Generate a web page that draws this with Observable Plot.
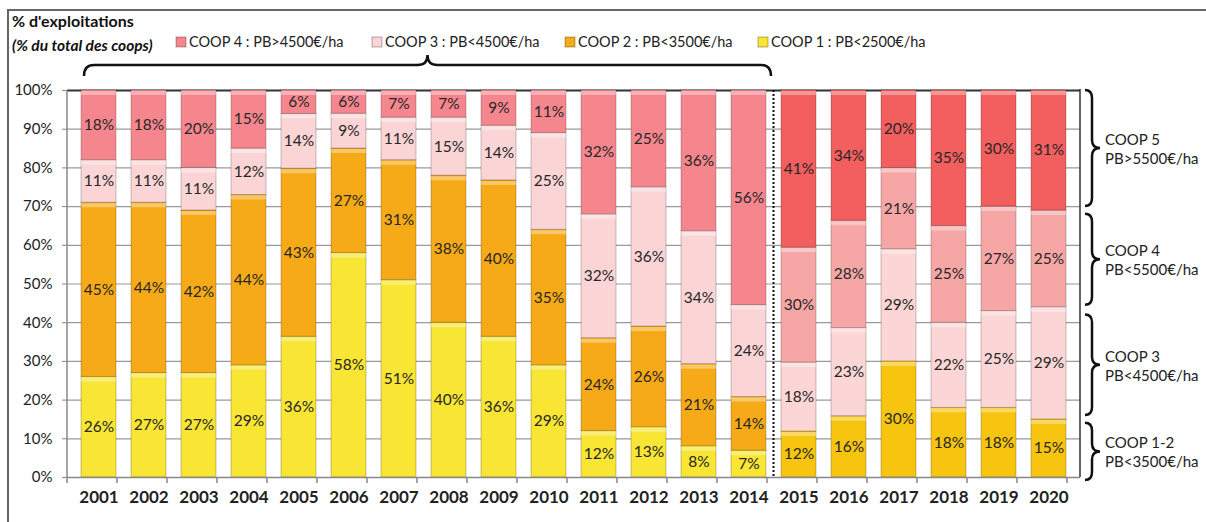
<!DOCTYPE html>
<html>
<head>
<meta charset="utf-8">
<script src="https://cdn.jsdelivr.net/npm/d3@7"></script>
<script src="https://cdn.jsdelivr.net/npm/@observablehq/plot@0.6"></script>
<style>
  html, body { margin: 0; padding: 0; background: white; }
  #chart { width: 1206px; height: 522px; }
</style>
</head>
<body>
<div id="chart"></div>
<script>
// ---- Data ----
const yearsA = ["2001","2002","2003","2004","2005","2006","2007","2008","2009","2010","2011","2012","2013","2014"];
const coop1 = [26,27,27,29,36,58,51,40,36,29,12,13,8,7];
const coop2 = [45,44,42,44,43,27,31,38,40,35,24,26,21,14];
const coop3 = [11,11,11,12,14,9,11,15,14,25,32,36,34,24];
const coop4 = [18,18,20,15,6,6,7,7,9,11,32,25,36,56];

const yearsB = ["2015","2016","2017","2018","2019","2020"];
const coop12b = [12,16,30,18,18,15];
const coop3b = [18,23,29,22,25,29];
const coop4b = [30,28,21,25,27,25];
const coop5b = [41,34,20,35,30,31];

const yTicks = [0,0.1,0.2,0.3,0.4,0.5,0.6,0.7,0.8,0.9,1];
const legendLabels = ["COOP 4 : PB>4500€/ha","COOP 3 : PB<4500€/ha","COOP 2 : PB<3500€/ha","COOP 1 : PB<2500€/ha"];
const legendKeys = ["c4","c3","c2","c1"];
const bracketRanges = [[0.70,1.0],[0.445,0.68],[0.16,0.42],[-0.008,0.14]];
const bracketLabels = [["COOP 5","PB>5500€/ha"],["COOP 4","PB<5500€/ha"],["COOP 3","PB<4500€/ha"],["COOP 1-2","PB<3500€/ha"]];

// ---- Styles ----
const keys = ["c1","c2","c3","c4","n12","n3","n4","n5"];
const colors = ["#f8e534","#f6aa17","#fbd4d6","#f6868e","#f7c40f","#fcd6d6","#f7a6a6","#f35e5e"];

// ---- Build table ----
const years = yearsA.concat(yearsB);
const rows = [];
yearsA.forEach((y,i) => {
  rows.push({year:y, level:1, key:"c1", value:coop1[i]});
  rows.push({year:y, level:2, key:"c2", value:coop2[i]});
  rows.push({year:y, level:3, key:"c3", value:coop3[i]});
  rows.push({year:y, level:4, key:"c4", value:coop4[i]});
});
yearsB.forEach((y,i) => {
  rows.push({year:y, level:1, key:"n12", value:coop12b[i]});
  rows.push({year:y, level:2, key:"n3", value:coop3b[i]});
  rows.push({year:y, level:3, key:"n4", value:coop4b[i]});
  rows.push({year:y, level:4, key:"n5", value:coop5b[i]});
});

const stackOpts = {x:"year", y:"value", z:"level", offset:"normalize"};
const font = "Lato, 'Open Sans', sans-serif";

const chart = Plot.plot({
  width: 1206,
  height: 522,
  marginLeft: 67,
  marginRight: 126,
  marginTop: 90,
  marginBottom: 45,
  style: {fontFamily: font, background: "white", color: "#222", overflow: "visible"},
  x: {domain: years, paddingInner: 0.3, paddingOuter: 0.15, label: null},
  y: {domain: [0,1], label: null},
  color: {domain: keys, range: colors},
  marks: [
    Plot.ruleY(yTicks, {stroke: "#9a9a9a", strokeWidth: 1.2}),
    Plot.ruleY([1], {stroke: "#333", strokeWidth: 2}),
    Plot.barY(rows, Plot.stackY({...stackOpts, fill: "key", stroke: "rgba(0,0,0,0.22)", strokeWidth: 1})),
    Plot.tickY(rows, Plot.stackY2({...stackOpts, stroke: "white", strokeOpacity: 0.35, strokeWidth: 4, dy: 2.5})),
    Plot.text(rows, Plot.stackY({...stackOpts, text: d => d.value + "%", fontSize: 15.5, fill: "#262626"})),
    Plot.axisY({ticks: yTicks, tickFormat: d => Math.round(d*100) + "%", tickSize: 5, tickPadding: 10, fontSize: 15, stroke: "#888", label: null}),
    Plot.axisX({tickSize: 0, tickPadding: 13, fontSize: 17, fontWeight: "bold", label: null}),
    Plot.ruleY([0], {stroke: "#888", strokeWidth: 1.5})
  ]
});
document.getElementById("chart").appendChild(chart);

// ---- Annotations through the plot scales ----
const svg = d3.select(chart);
const xs = chart.scale("x"), ys = chart.scale("y");
const step = xs.step, bw = xs.bandwidth;
const xLeft = xs.range[0], xRight = xs.range[1];
const yTop = ys.apply(1), yBot = ys.apply(0);
const g = svg.append("g").attr("text-anchor", "start").attr("font-family", font);

// left axis line and right frame
g.append("line").attr("x1", xLeft).attr("x2", xLeft).attr("y1", yTop).attr("y2", yBot).attr("stroke", "#888").attr("stroke-width", 1.5);
g.append("line").attr("x1", xRight).attr("x2", xRight).attr("y1", yTop - 1).attr("y2", yBot).attr("stroke", "#333").attr("stroke-width", 1.5);
// bottom ticks at band boundaries
for (let i = 0; i <= years.length; i++) {
  const xx = xLeft + i * step;
  g.append("line").attr("x1", xx).attr("x2", xx).attr("y1", yBot).attr("y2", yBot + 6).attr("stroke", "#888").attr("stroke-width", 1.5);
}
// dotted separator
const xSep = xs.apply(yearsB[0]) - (step - bw) / 2;
g.append("line").attr("x1", xSep).attr("x2", xSep).attr("y1", yTop).attr("y2", yBot)
  .attr("stroke", "#111").attr("stroke-width", 2).attr("stroke-dasharray", "2,2");

// top brace over 2001-2014
{
  const a = xs.apply(yearsA[0]) + 3, b = xs.apply(yearsA[yearsA.length-1]) + bw + 5;
  const m = (a + b) / 2, yEnd = 76, yL = 65, yP = 55, r = 10;
  const p = `M${a},${yEnd} Q${a},${yL} ${a+r},${yL} L${m-r},${yL} Q${m},${yL} ${m},${yP} Q${m},${yL} ${m+r},${yL} L${b-r},${yL} Q${b},${yL} ${b},${yEnd}`;
  g.append("path").attr("d", p).attr("fill", "none").attr("stroke", "#111").attr("stroke-width", 2.5);
}
// right braces
bracketRanges.forEach((rg, i) => {
  const ya = ys.apply(rg[1]), yb = ys.apply(rg[0]);
  const mid = (ya + yb) / 2, xe = xRight + 5, xl = xRight + 12, xt = xRight + 20, r = 8;
  const p = `M${xe},${ya} Q${xl},${ya} ${xl},${ya+r} L${xl},${mid-r} Q${xl},${mid} ${xt},${mid} Q${xl},${mid} ${xl},${mid+r} L${xl},${yb-r} Q${xl},${yb} ${xe},${yb}`;
  g.append("path").attr("d", p).attr("fill", "none").attr("stroke", "#111").attr("stroke-width", 2.5);
  g.append("text").attr("x", xRight + 25).attr("y", mid - 3).attr("font-size", 15).attr("fill", "#222").text(bracketLabels[i][0]);
  g.append("text").attr("x", xRight + 25).attr("y", mid + 16).attr("font-size", 15).attr("fill", "#222").text(bracketLabels[i][1]);
});

// title and legend
g.append("text").attr("x", 12).attr("y", 27).attr("font-size", 16).attr("font-weight", "bold").attr("fill", "#111").text("% d'exploitations");
g.append("text").attr("x", 12).attr("y", 51).attr("font-size", 15.5).attr("font-weight", "bold").attr("font-style", "italic").attr("fill", "#111").text("(% du total des coops)");
const legendX = [176, 372, 565, 758];
legendKeys.forEach((k, i) => {
  const col = colors[keys.indexOf(k)];
  g.append("rect").attr("x", legendX[i]).attr("y", 37).attr("width", 10).attr("height", 10).attr("fill", col).attr("stroke", "rgba(0,0,0,0.3)");
  g.append("text").attr("x", legendX[i] + 13).attr("y", 47).attr("font-size", 14.5).attr("fill", "#222").text(legendLabels[i]);
});
// outer frame (top & left)
g.append("path").attr("d", "M8,522 L8,10 L1206,10").attr("fill", "none").attr("stroke", "#666").attr("stroke-width", 2);
</script>
</body>
</html>
